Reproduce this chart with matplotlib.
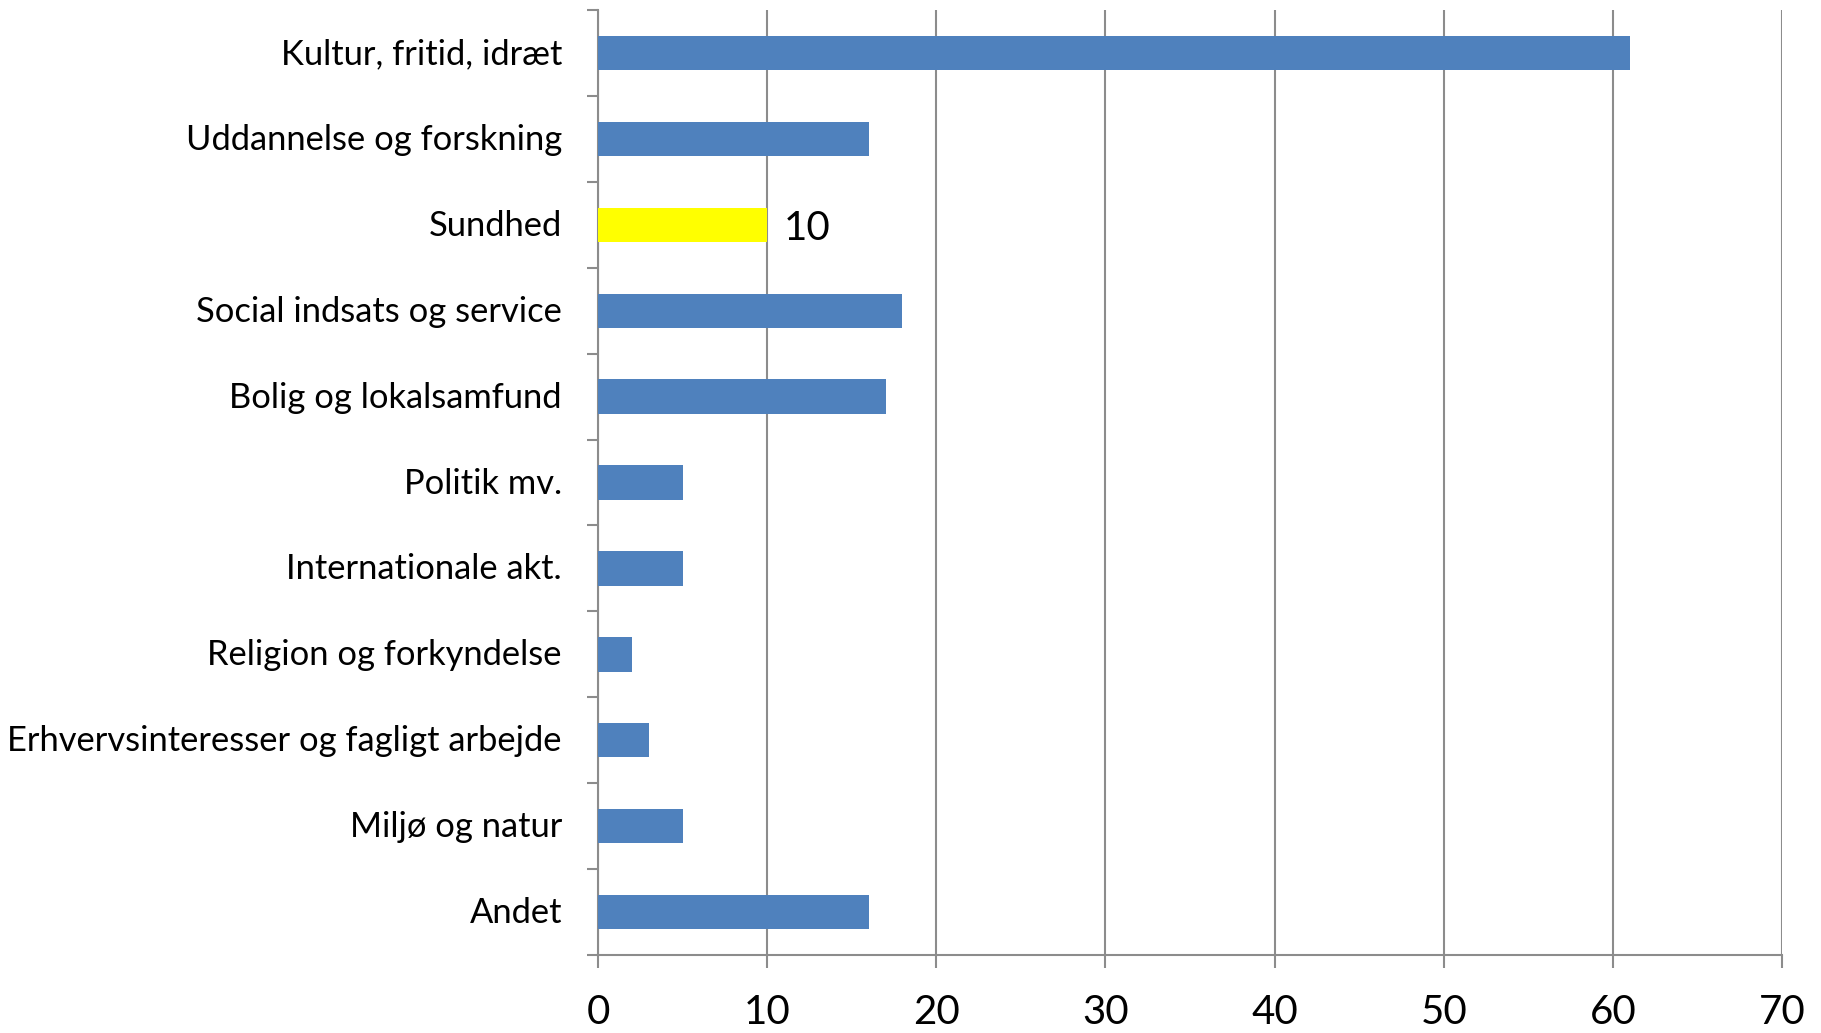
import numpy as np
import matplotlib.pyplot as plt
import matplotlib.transforms as mtransforms

categories = ["Kultur, fritid, idræt", "Uddannelse og forskning", "Sundhed",
              "Social indsats og service", "Bolig og lokalsamfund", "Politik mv.",
              "Internationale akt.", "Religion og forkyndelse",
              "Erhvervsinteresser og fagligt arbejde", "Miljø og natur", "Andet"]
values = [61, 16, 10, 18, 17, 5, 5, 2, 3, 5, 16]
highlight = "Sundhed"

BLUE = "#4f81bd"
YELLOW = "#ffff00"
GRID = "#8c8c8c"

plt.rcParams['font.family'] = ['Lato', 'DejaVu Sans']

fig = plt.figure(figsize=(18.21, 10.33), dpi=100)
ax = fig.add_axes([0.3284, 0.0755, 0.9786 - 0.3284, 0.9903 - 0.0755])

y = np.arange(len(categories))
colors = [YELLOW if c == highlight else BLUE for c in categories]
ax.barh(y, values, height=0.4, color=colors, zorder=3)

# data label on the highlighted bar
i = categories.index(highlight)
ax.annotate(str(values[i]), xy=(values[i], y[i]), xytext=(12, -2.5),
            textcoords='offset points', va='center', ha='left', fontsize=29)

ax.set_xlim(0, 70)
ax.set_ylim(len(categories) - 0.5, -0.5)
ax.set_xticks(np.arange(0, 71, 10))
ax.tick_params(axis='x', labelsize=29, length=9, width=1.5, color=GRID, pad=19)

ax.set_yticks(y)
ax.set_yticklabels(categories)
ax.set_yticks(np.arange(-0.5, len(categories)), minor=True)
ax.tick_params(axis='y', which='major', length=0, labelsize=24.8, pad=26)
ax.tick_params(axis='y', which='minor', length=8, width=1.5, color=GRID)

# nudge category labels up a little
shift = mtransforms.ScaledTranslation(0, 2 / 100, fig.dpi_scale_trans)
for lbl in ax.get_yticklabels():
    lbl.set_transform(lbl.get_transform() + shift)

ax.grid(True, axis='x', color=GRID, linewidth=1.5, zorder=0)
for s in ['top', 'right']:
    ax.spines[s].set_visible(False)
for s in ['left', 'bottom']:
    ax.spines[s].set_color(GRID)
    ax.spines[s].set_linewidth(1.5)

fig.savefig("out.png", dpi=100)
